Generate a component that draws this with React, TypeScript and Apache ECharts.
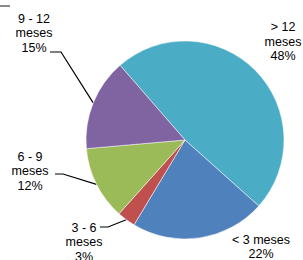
import React, { useEffect, useRef } from "react";
import * as echarts from "echarts";

const categories = ["> 12\nmeses", "< 3 meses", "3 - 6\nmeses", "6 - 9\nmeses", "9 - 12\nmeses"];
const values = [48, 22, 3, 12, 15];
const colors = ["#4BACC6", "#4F81BD", "#C0504D", "#9BBB59", "#8064A2"];

// label layout (centre of text block) and where the leader line meets the label
const labelCenters = [
  [283, 41.5],
  [261, 247],
  [84, 242],
  [30, 171],
  [34, 33],
];
// leader line: [elbowX, labelEndX, y] ; null = no leader
const leaders: (number[] | null)[] = [
  null,
  null,
  [108, 100, 227],
  [63, 55, 174],
  [61, 50, 52],
];

export default function App() {
  const ref = useRef<HTMLDivElement>(null);
  useEffect(() => {
    document.body.style.margin = "0";
    const chart = echarts.init(ref.current!, null, { renderer: "svg" });
    chart.setOption({
      animation: false,
      backgroundColor: "#fff",
      graphic: [
        {
          type: "line",
          shape: { x1: 0, y1: 6, x2: 10, y2: 6 },
          style: { stroke: "#666", lineWidth: 1.5 },
        },
      ],
      series: [
        {
          type: "pie",
          center: [185, 140],
          radius: 99,
          startAngle: 131,
          clockwise: true,
          avoidLabelOverlap: false,
          itemStyle: { borderColor: "#fff", borderWidth: 0.5 },
          label: {
            show: true,
            position: "outside",
            fontFamily: "Liberation Sans, Arial, sans-serif",
            fontSize: 12.5,
            lineHeight: 14.5,
            color: "#000",
            align: "center",
            formatter: (p: any) => `${p.name}\n${p.value}%`,
          },
          labelLine: {
            show: true,
            lineStyle: { color: "#000", width: 1.2 },
          },
          labelLayout: (params: any) => {
            const i = params.dataIndex;
            const c = labelCenters[i];
            const res: any = { x: c[0], y: c[1], align: "center", verticalAlign: "middle" };
            const l = leaders[i];
            if (l && params.labelLinePoints) {
              const p0 = params.labelLinePoints[0];
              res.labelLinePoints = [p0, [l[0], l[2]], [l[1], l[2]]];
            }
            return res;
          },
          data: categories.map((name, i) => ({
            name,
            value: values[i],
            itemStyle: { color: colors[i] },
            labelLine: { show: leaders[i] !== null },
          })),
        },
      ],
    });
    return () => chart.dispose();
  }, []);
  return <div ref={ref} style={{ width: 303, height: 260 }} />;
}
